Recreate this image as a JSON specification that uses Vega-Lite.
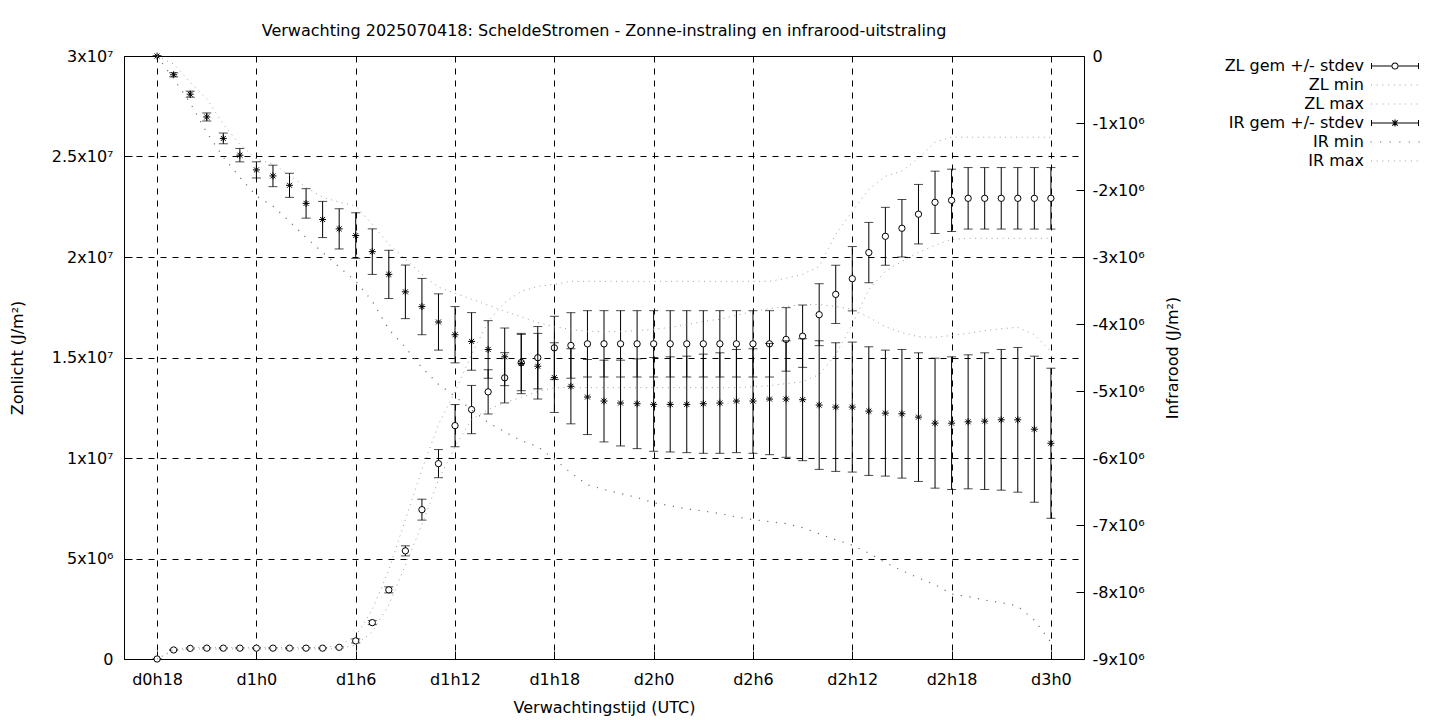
{
  "$schema": "https://vega.github.io/schema/vega-lite/v6.json",
  "width": 960,
  "height": 603,
  "autosize": {"type": "none"},
  "padding": {"left": 124, "top": 56, "right": 356, "bottom": 61},
  "background": "white",
  "config": {
    "view": {"stroke": "black", "strokeWidth": 1},
    "font": "DejaVu Sans",
    "axis": {
      "labelFont": "DejaVu Sans", "labelFontSize": 16, "labelColor": "black",
      "titleFont": "DejaVu Sans", "titleFontSize": 16, "titleFontWeight": "normal", "titleColor": "black",
      "domain": false, "tickColor": "black", "tickWidth": 1,
      "gridColor": "black", "gridDash": [6, 6], "gridOpacity": 1, "gridWidth": 1,
      "labelFlush": false, "labelOverlap": false
    }
  },
  "title": {
    "text": "Verwachting 2025070418: ScheldeStromen - Zonne-instraling en infrarood-uitstraling",
    "font": "DejaVu Sans", "fontSize": 16, "fontWeight": "normal", "color": "black",
    "anchor": "middle", "offset": 9
  },
  "data": {"values": [
    {"h":18,"zl":0,"zls":0,"zlmin":0,"zlmax":0,"ir":0,"irs":0,"irmin":0,"irmax":0},
    {"h":19,"zl":4.5e5,"zls":3e4,"zlmin":4.2e5,"zlmax":4.8e5,"ir":-2.8e5,"irs":3e4,"irmin":-3.4e5,"irmax":-1.2e5},
    {"h":20,"zl":5.3e5,"zls":3e4,"zlmin":5e5,"zlmax":5.8e5,"ir":-5.7e5,"irs":4.5e4,"irmin":-7.0e5,"irmax":-3.9e5},
    {"h":21,"zl":5.4e5,"zls":3e4,"zlmin":5e5,"zlmax":5.8e5,"ir":-9.1e5,"irs":6e4,"irmin":-1.14e6,"irmax":-6.4e5},
    {"h":22,"zl":5.4e5,"zls":3e4,"zlmin":5e5,"zlmax":5.8e5,"ir":-1.23e6,"irs":8e4,"irmin":-1.51e6,"irmax":-1.02e6},
    {"h":23,"zl":5.4e5,"zls":3e4,"zlmin":5e5,"zlmax":5.8e5,"ir":-1.48e6,"irs":1e5,"irmin":-1.81e6,"irmax":-1.32e6},
    {"h":24,"zl":5.4e5,"zls":3e4,"zlmin":5e5,"zlmax":5.8e5,"ir":-1.70e6,"irs":1.2e5,"irmin":-2.09e6,"irmax":-1.54e6},
    {"h":25,"zl":5.4e5,"zls":3e4,"zlmin":5e5,"zlmax":5.8e5,"ir":-1.79e6,"irs":1.6e5,"irmin":-2.24e6,"irmax":-1.61e6},
    {"h":26,"zl":5.4e5,"zls":3e4,"zlmin":5e5,"zlmax":5.8e5,"ir":-1.93e6,"irs":1.8e5,"irmin":-2.47e6,"irmax":-1.78e6},
    {"h":27,"zl":5.4e5,"zls":3e4,"zlmin":5e5,"zlmax":5.8e5,"ir":-2.20e6,"irs":2.2e5,"irmin":-2.71e6,"irmax":-1.96e6},
    {"h":28,"zl":5.4e5,"zls":3e4,"zlmin":5e5,"zlmax":5.8e5,"ir":-2.44e6,"irs":2.7e5,"irmin":-2.93e6,"irmax":-2.11e6},
    {"h":29,"zl":5.8e5,"zls":3e4,"zlmin":5.2e5,"zlmax":6.5e5,"ir":-2.58e6,"irs":3e5,"irmin":-3.15e6,"irmax":-2.18e6},
    {"h":30,"zl":9.0e5,"zls":1e5,"zlmin":7e5,"zlmax":1.15e6,"ir":-2.68e6,"irs":3.4e5,"irmin":-3.36e6,"irmax":-2.24e6},
    {"h":31,"zl":1.81e6,"zls":1e5,"zlmin":1.35e6,"zlmax":2.44e6,"ir":-2.92e6,"irs":3.4e5,"irmin":-3.66e6,"irmax":-2.51e6},
    {"h":32,"zl":3.44e6,"zls":1.5e5,"zlmin":2.69e6,"zlmax":4.44e6,"ir":-3.26e6,"irs":3.6e5,"irmin":-4.08e6,"irmax":-2.81e6},
    {"h":33,"zl":5.38e6,"zls":2.5e5,"zlmin":4.68e6,"zlmax":6.93e6,"ir":-3.52e6,"irs":4e5,"irmin":-4.35e6,"irmax":-3.03e6},
    {"h":34,"zl":7.43e6,"zls":5.2e5,"zlmin":6.68e6,"zlmax":9.42e6,"ir":-3.74e6,"irs":4.2e5,"irmin":-4.65e6,"irmax":-3.26e6},
    {"h":35,"zl":9.72e6,"zls":7e5,"zlmin":8.92e6,"zlmax":1.166e7,"ir":-3.97e6,"irs":4.2e5,"irmin":-4.90e6,"irmax":-3.45e6},
    {"h":36,"zl":1.161e7,"zls":1.05e6,"zlmin":1.057e7,"zlmax":1.331e7,"ir":-4.16e6,"irs":4.2e5,"irmin":-5.08e6,"irmax":-3.54e6},
    {"h":37,"zl":1.241e7,"zls":1.2e6,"zlmin":1.191e7,"zlmax":1.515e7,"ir":-4.26e6,"irs":4.3e5,"irmin":-5.28e6,"irmax":-3.63e6},
    {"h":38,"zl":1.329e7,"zls":1.1e6,"zlmin":1.241e7,"zlmax":1.679e7,"ir":-4.38e6,"irs":4.3e5,"irmin":-5.47e6,"irmax":-3.72e6},
    {"h":39,"zl":1.399e7,"zls":1.25e6,"zlmin":1.276e7,"zlmax":1.774e7,"ir":-4.49e6,"irs":4.3e5,"irmin":-5.61e6,"irmax":-3.81e6},
    {"h":40,"zl":1.475e7,"zls":1.4e6,"zlmin":1.301e7,"zlmax":1.829e7,"ir":-4.59e6,"irs":4.5e5,"irmin":-5.74e6,"irmax":-3.89e6},
    {"h":41,"zl":1.499e7,"zls":1.55e6,"zlmin":1.331e7,"zlmax":1.854e7,"ir":-4.63e6,"irs":4.9e5,"irmin":-5.83e6,"irmax":-3.98e6},
    {"h":42,"zl":1.548e7,"zls":1.57e6,"zlmin":1.35e7,"zlmax":1.864e7,"ir":-4.80e6,"irs":5.2e5,"irmin":-6.02e6,"irmax":-4.04e6},
    {"h":43,"zl":1.560e7,"zls":1.63e6,"zlmin":1.35e7,"zlmax":1.879e7,"ir":-4.93e6,"irs":5.6e5,"irmin":-6.22e6,"irmax":-4.08e6},
    {"h":44,"zl":1.568e7,"zls":1.65e6,"zlmin":1.35e7,"zlmax":1.879e7,"ir":-5.09e6,"irs":5.6e5,"irmin":-6.40e6,"irmax":-4.11e6},
    {"h":45,"zl":1.568e7,"zls":1.65e6,"zlmin":1.35e7,"zlmax":1.879e7,"ir":-5.15e6,"irs":6.1e5,"irmin":-6.47e6,"irmax":-4.11e6},
    {"h":46,"zl":1.568e7,"zls":1.65e6,"zlmin":1.35e7,"zlmax":1.879e7,"ir":-5.18e6,"irs":6.4e5,"irmin":-6.53e6,"irmax":-4.11e6},
    {"h":47,"zl":1.568e7,"zls":1.65e6,"zlmin":1.35e7,"zlmax":1.879e7,"ir":-5.19e6,"irs":6.7e5,"irmin":-6.59e6,"irmax":-4.10e6},
    {"h":48,"zl":1.568e7,"zls":1.65e6,"zlmin":1.35e7,"zlmax":1.879e7,"ir":-5.20e6,"irs":7.0e5,"irmin":-6.67e6,"irmax":-4.08e6},
    {"h":49,"zl":1.568e7,"zls":1.65e6,"zlmin":1.35e7,"zlmax":1.879e7,"ir":-5.20e6,"irs":7.1e5,"irmin":-6.71e6,"irmax":-4.05e6},
    {"h":50,"zl":1.568e7,"zls":1.65e6,"zlmin":1.35e7,"zlmax":1.879e7,"ir":-5.20e6,"irs":7.2e5,"irmin":-6.76e6,"irmax":-4.01e6},
    {"h":51,"zl":1.568e7,"zls":1.65e6,"zlmin":1.35e7,"zlmax":1.879e7,"ir":-5.19e6,"irs":7.4e5,"irmin":-6.79e6,"irmax":-3.96e6},
    {"h":52,"zl":1.568e7,"zls":1.65e6,"zlmin":1.35e7,"zlmax":1.879e7,"ir":-5.18e6,"irs":7.5e5,"irmin":-6.83e6,"irmax":-3.93e6},
    {"h":53,"zl":1.568e7,"zls":1.65e6,"zlmin":1.35e7,"zlmax":1.879e7,"ir":-5.15e6,"irs":7.7e5,"irmin":-6.88e6,"irmax":-3.87e6},
    {"h":54,"zl":1.568e7,"zls":1.65e6,"zlmin":1.355e7,"zlmax":1.879e7,"ir":-5.15e6,"irs":7.8e5,"irmin":-6.92e6,"irmax":-3.81e6},
    {"h":55,"zl":1.568e7,"zls":1.65e6,"zlmin":1.36e7,"zlmax":1.879e7,"ir":-5.12e6,"irs":8.3e5,"irmin":-6.95e6,"irmax":-3.77e6},
    {"h":56,"zl":1.590e7,"zls":1.58e6,"zlmin":1.37e7,"zlmax":1.894e7,"ir":-5.12e6,"irs":8.7e5,"irmin":-6.98e6,"irmax":-3.74e6},
    {"h":57,"zl":1.606e7,"zls":1.55e6,"zlmin":1.38e7,"zlmax":1.914e7,"ir":-5.13e6,"irs":9.1e5,"irmin":-7.04e6,"irmax":-3.71e6},
    {"h":58,"zl":1.713e7,"zls":1.54e6,"zlmin":1.415e7,"zlmax":1.953e7,"ir":-5.21e6,"irs":9.6e5,"irmin":-7.13e6,"irmax":-3.71e6},
    {"h":59,"zl":1.814e7,"zls":1.45e6,"zlmin":1.515e7,"zlmax":2.113e7,"ir":-5.24e6,"irs":9.6e5,"irmin":-7.22e6,"irmax":-3.74e6},
    {"h":60,"zl":1.892e7,"zls":1.6e6,"zlmin":1.664e7,"zlmax":2.228e7,"ir":-5.24e6,"irs":9.7e5,"irmin":-7.30e6,"irmax":-3.78e6},
    {"h":61,"zl":2.022e7,"zls":1.5e6,"zlmin":1.839e7,"zlmax":2.337e7,"ir":-5.30e6,"irs":9.6e5,"irmin":-7.42e6,"irmax":-3.90e6},
    {"h":62,"zl":2.103e7,"zls":1.44e6,"zlmin":1.929e7,"zlmax":2.402e7,"ir":-5.33e6,"irs":9.4e5,"irmin":-7.56e6,"irmax":-4.04e6},
    {"h":63,"zl":2.143e7,"zls":1.43e6,"zlmin":1.978e7,"zlmax":2.427e7,"ir":-5.34e6,"irs":9.6e5,"irmin":-7.68e6,"irmax":-4.13e6},
    {"h":64,"zl":2.213e7,"zls":1.48e6,"zlmin":2.023e7,"zlmax":2.492e7,"ir":-5.39e6,"irs":9.6e5,"irmin":-7.79e6,"irmax":-4.19e6},
    {"h":65,"zl":2.272e7,"zls":1.55e6,"zlmin":2.058e7,"zlmax":2.571e7,"ir":-5.48e6,"irs":9.7e5,"irmin":-7.89e6,"irmax":-4.20e6},
    {"h":66,"zl":2.282e7,"zls":1.55e6,"zlmin":2.088e7,"zlmax":2.596e7,"ir":-5.48e6,"irs":9.9e5,"irmin":-8.03e6,"irmax":-4.17e6},
    {"h":67,"zl":2.292e7,"zls":1.53e6,"zlmin":2.093e7,"zlmax":2.596e7,"ir":-5.46e6,"irs":1.0e6,"irmin":-8.07e6,"irmax":-4.14e6},
    {"h":68,"zl":2.292e7,"zls":1.53e6,"zlmin":2.093e7,"zlmax":2.596e7,"ir":-5.45e6,"irs":1.02e6,"irmin":-8.12e6,"irmax":-4.10e6},
    {"h":69,"zl":2.292e7,"zls":1.53e6,"zlmin":2.093e7,"zlmax":2.596e7,"ir":-5.43e6,"irs":1.05e6,"irmin":-8.16e6,"irmax":-4.07e6},
    {"h":70,"zl":2.292e7,"zls":1.53e6,"zlmin":2.093e7,"zlmax":2.596e7,"ir":-5.43e6,"irs":1.08e6,"irmin":-8.21e6,"irmax":-4.05e6},
    {"h":71,"zl":2.292e7,"zls":1.53e6,"zlmin":2.093e7,"zlmax":2.596e7,"ir":-5.57e6,"irs":1.09e6,"irmin":-8.42e6,"irmax":-4.16e6},
    {"h":72,"zl":2.292e7,"zls":1.53e6,"zlmin":2.093e7,"zlmax":2.596e7,"ir":-5.78e6,"irs":1.12e6,"irmin":-8.75e6,"irmax":-4.41e6}
  ]},
  "layer": [
    {
      "layer": [
        {
          "mark": {"type": "errorbar", "ticks": true, "size": 9, "thickness": 1, "color": "black"},
          "encoding": {
            "x": {"field": "h", "type": "quantitative", "scale": {"domain": [16, 74], "nice": false, "zero": false}, "title": "Verwachtingstijd (UTC)",
                  "axis": {"values": [18, 24, 30, 36, 42, 48, 54, 60, 66, 72], "labelExpr": "'d' + floor(datum.value / 24) + 'h' + (datum.value % 24)", "grid": true, "tickSize": -8, "labelPadding": 20, "titlePadding": 12}},
            "y": {"field": "zl", "type": "quantitative", "scale": {"domain": [0, 30000000], "nice": false, "zero": false}, "title": "Zonlicht (J/m²)",
                  "axis": {"orient": "left", "values": [0, 5000000, 10000000, 15000000, 20000000, 25000000, 30000000], "labelExpr": "datum.value === 0 ? '0' : datum.value < 10000000 ? (datum.value / 1000000) + 'x10⁶' : (datum.value / 10000000) + 'x10⁷'", "grid": true, "tickSize": -8, "labelPadding": 19, "titlePadding": 26}},
            "yError": {"field": "zls"}
          }
        },
        {
          "mark": {"type": "point", "shape": "circle", "size": 40, "filled": true, "fill": "white", "stroke": "black", "strokeWidth": 1, "opacity": 1},
          "encoding": {
            "x": {"field": "h", "type": "quantitative", "title": "Verwachtingstijd (UTC)"},
            "y": {"field": "zl", "type": "quantitative", "scale": {"domain": [0, 30000000], "nice": false, "zero": false}, "title": "Zonlicht (J/m²)"}
          }
        },
        {
          "mark": {"type": "line", "color": "#a0a0a0", "strokeWidth": 1, "strokeDash": [1, 4.5]},
          "encoding": {
            "x": {"field": "h", "type": "quantitative", "title": "Verwachtingstijd (UTC)"},
            "y": {"field": "zlmin", "type": "quantitative", "scale": {"domain": [0, 30000000], "nice": false, "zero": false}, "title": "Zonlicht (J/m²)"}
          }
        },
        {
          "mark": {"type": "line", "color": "#a0a0a0", "strokeWidth": 1, "strokeDash": [1, 4.5]},
          "encoding": {
            "x": {"field": "h", "type": "quantitative", "title": "Verwachtingstijd (UTC)"},
            "y": {"field": "zlmax", "type": "quantitative", "scale": {"domain": [0, 30000000], "nice": false, "zero": false}, "title": "Zonlicht (J/m²)"}
          }
        }
      ]
    },
    {
      "layer": [
        {
          "mark": {"type": "errorbar", "ticks": true, "size": 9, "thickness": 1, "color": "black"},
          "encoding": {
            "x": {"field": "h", "type": "quantitative", "title": "Verwachtingstijd (UTC)"},
            "y": {"field": "ir", "type": "quantitative", "scale": {"domain": [-9000000, 0], "nice": false, "zero": false}, "title": "Infrarood (J/m²)",
                  "axis": {"orient": "right", "values": [0, -1000000, -2000000, -3000000, -4000000, -5000000, -6000000, -7000000, -8000000, -9000000], "labelExpr": "datum.value === 0 ? '0' : (datum.value / 1000000) + 'x10⁶'", "grid": false, "tickSize": -8, "labelPadding": 16, "titlePadding": 20, "titleAngle": 270, "titleBaseline": "top"}},
            "yError": {"field": "irs"}
          }
        },
        {
          "mark": {"type": "point", "shape": "M-1,0H1M0,-1V1M-0.71,-0.71L0.71,0.71M-0.71,0.71L0.71,-0.71", "size": 49, "filled": false, "color": "black", "strokeWidth": 1, "opacity": 1},
          "encoding": {
            "x": {"field": "h", "type": "quantitative", "title": "Verwachtingstijd (UTC)"},
            "y": {"field": "ir", "type": "quantitative", "scale": {"domain": [-9000000, 0], "nice": false, "zero": false}, "title": "Infrarood (J/m²)"}
          }
        },
        {
          "mark": {"type": "line", "color": "#707070", "strokeWidth": 1.2, "strokeDash": [1.2, 7.5]},
          "encoding": {
            "x": {"field": "h", "type": "quantitative", "title": "Verwachtingstijd (UTC)"},
            "y": {"field": "irmin", "type": "quantitative", "scale": {"domain": [-9000000, 0], "nice": false, "zero": false}, "title": "Infrarood (J/m²)"}
          }
        },
        {
          "mark": {"type": "line", "color": "#a0a0a0", "strokeWidth": 1, "strokeDash": [1, 4.5]},
          "encoding": {
            "x": {"field": "h", "type": "quantitative", "title": "Verwachtingstijd (UTC)"},
            "y": {"field": "irmax", "type": "quantitative", "scale": {"domain": [-9000000, 0], "nice": false, "zero": false}, "title": "Infrarood (J/m²)"}
          }
        }
      ]
    },
    {
      "data": {"values": [
        {"s": "ZL gem +/- stdev"}, {"s": "ZL min"}, {"s": "ZL max"},
        {"s": "IR gem +/- stdev"}, {"s": "IR min"}, {"s": "IR max"}
      ]},
      "mark": {"type": "point", "filled": true, "opacity": 0, "size": 4},
      "encoding": {
        "shape": {
          "field": "s", "type": "nominal",
          "scale": {
            "domain": ["ZL gem +/- stdev", "ZL min", "ZL max", "IR gem +/- stdev", "IR min", "IR max"],
            "range": [
              "M-24,-0.5H-3.7V0.5H-24Z M3.7,-0.5H24V0.5H3.7Z M-24,-3H-23V3H-24Z M23,-3H24V3H23Z M3.6,0A3.6,3.6,0,1,1,-3.6,0A3.6,3.6,0,1,1,3.6,0Z M2.6,0A2.6,2.6,0,1,0,-2.6,0A2.6,2.6,0,1,0,2.6,0Z",
              "M-24,-0.5h1v1h-1Z M-18.3,-0.5h1v1h-1Z M-12.6,-0.5h1v1h-1Z M-6.9,-0.5h1v1h-1Z M-1.2,-0.5h1v1h-1Z M4.5,-0.5h1v1h-1Z M10.2,-0.5h1v1h-1Z M15.9,-0.5h1v1h-1Z M21.6,-0.5h1v1h-1Z",
              "M-24,-0.5h1v1h-1Z M-18.3,-0.5h1v1h-1Z M-12.6,-0.5h1v1h-1Z M-6.9,-0.5h1v1h-1Z M-1.2,-0.5h1v1h-1Z M4.5,-0.5h1v1h-1Z M10.2,-0.5h1v1h-1Z M15.9,-0.5h1v1h-1Z M21.6,-0.5h1v1h-1Z",
              "M-24,-0.5H24V0.5H-24Z M-24,-3H-23V3H-24Z M23,-3H24V3H23Z M-0.55,-3.6H0.55V3.6H-0.55Z M-3.1,-2.3L-2.3,-3.1L3.1,2.3L2.3,3.1Z M2.3,-3.1L3.1,-2.3L-2.3,3.1L-3.1,2.3Z",
              "M-24.6,-0.6h1.2v1.2h-1.2Z M-15,-0.6h1.2v1.2h-1.2Z M-5.4,-0.6h1.2v1.2h-1.2Z M4.2,-0.6h1.2v1.2h-1.2Z M13.8,-0.6h1.2v1.2h-1.2Z M23.4,-0.6h1.2v1.2h-1.2Z",
              "M-24,-0.5h1v1h-1Z M-18.3,-0.5h1v1h-1Z M-12.6,-0.5h1v1h-1Z M-6.9,-0.5h1v1h-1Z M-1.2,-0.5h1v1h-1Z M4.5,-0.5h1v1h-1Z M10.2,-0.5h1v1h-1Z M15.9,-0.5h1v1h-1Z M21.6,-0.5h1v1h-1Z"
            ]
          },
          "legend": {"orient": "none", "legendX": 1263, "legendY": 2, "title": null, "padding": 0, "labelFont": "DejaVu Sans", "labelFontSize": 16, "labelColor": "black", "labelAlign": "right", "labelOffset": -39, "labelLimit": 400, "symbolSize": 4, "symbolStrokeWidth": 0, "symbolOpacity": 1, "rowPadding": 3}
        },
        "color": {
          "field": "s", "type": "nominal",
          "scale": {
            "domain": ["ZL gem +/- stdev", "ZL min", "ZL max", "IR gem +/- stdev", "IR min", "IR max"],
            "range": ["black", "#a0a0a0", "#a0a0a0", "black", "#707070", "#a0a0a0"]
          },
          "legend": {"orient": "none", "legendX": 1263, "legendY": 2, "title": null, "padding": 0, "labelFont": "DejaVu Sans", "labelFontSize": 16, "labelColor": "black", "labelAlign": "right", "labelOffset": -39, "labelLimit": 400, "symbolSize": 4, "symbolStrokeWidth": 0, "symbolOpacity": 1, "rowPadding": 3}
        }
      }
    }
  ],
  "resolve": {"scale": {"y": "independent"}}
}
